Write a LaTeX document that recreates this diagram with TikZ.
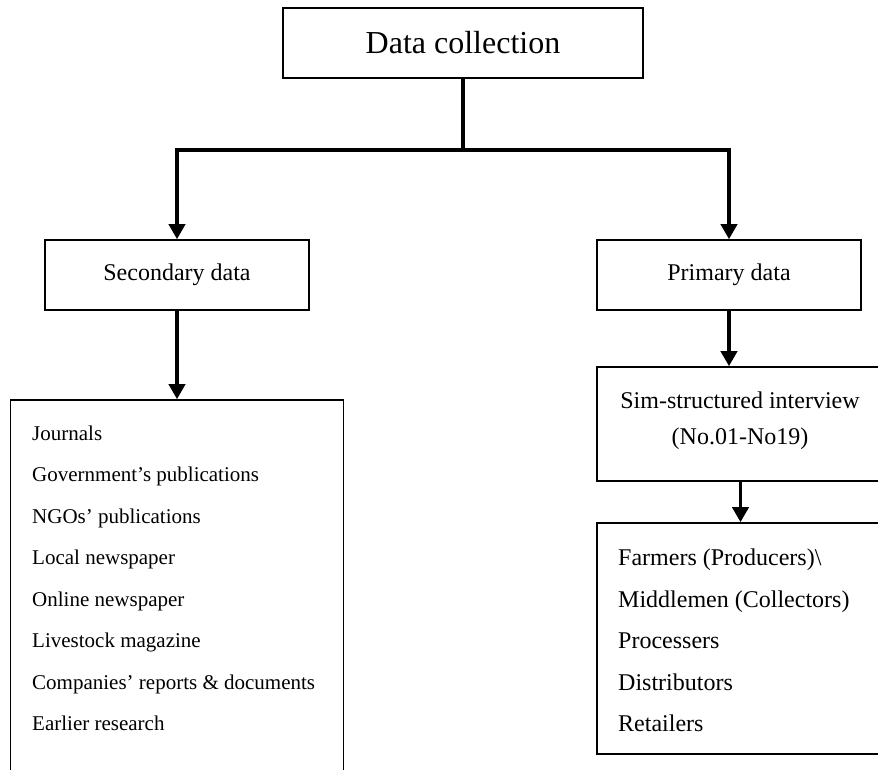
\documentclass[tikz,border=0pt]{standalone}
\usepackage{fontspec}
\setmainfont{Liberation Serif}
\usetikzlibrary{arrows.meta}

\tikzset{
  box/.style={draw, line width=1.6pt, inner sep=0pt, rectangle, align=center},
  flow/.style={line width=3.8pt, -{Triangle[width=16pt,length=15pt]}},
  joint/.style={line width=3.8pt},
  item/.style={anchor=base west, inner sep=0pt},
}

\begin{document}
\begin{tikzpicture}[x=1pt, y=-1pt]
  \useasboundingbox (0,0) rectangle (878,769);
  \clip (0,0) rectangle (878,769);

  % boxes
  \node[box, minimum width=360pt, minimum height=70pt, font=\fontsize{32}{38}\selectfont]
    (top) at (463,43) {Data collection};
  \node[box, minimum width=264pt, minimum height=70pt, font=\fontsize{24}{29}\selectfont]
    (sec) at (177,275) {Secondary data};
  \node[box, minimum width=264pt, minimum height=70pt, font=\fontsize{24}{29}\selectfont]
    (prim) at (729,275) {Primary data};
  \node[box, minimum width=333pt, minimum height=420pt] (lst) at (177,610) {};
  \node[box, minimum width=287pt, minimum height=114pt] (sim) at (740.5,424) {};
  \node[box, minimum width=287pt, minimum height=231pt] (ret) at (740.5,638.5) {};

  % interview box text
  \begin{scope}[font=\fontsize{24}{29}\selectfont]
    \node[anchor=base, inner sep=0pt] (sim1) at (740,408) {Sim-structured interview};
    \node[anchor=base, inner sep=0pt] (sim2) at (740,444) {(No.01-No19)};
  \end{scope}

  % secondary sources
  \begin{scope}[font=\fontsize{21}{25}\selectfont]
    \node[item] (s1) at (32,440)   {Journals};
    \node[item] (s2) at (32,481.5) {Government’s publications};
    \node[item] (s3) at (32,523)   {NGOs’ publications};
    \node[item] (s4) at (32,564.5) {Local newspaper};
    \node[item] (s5) at (32,606)   {Online newspaper};
    \node[item] (s6) at (32,647.5) {Livestock magazine};
    \node[item] (s7) at (32,689)   {Companies’ reports \& documents};
    \node[item] (s8) at (32,730.5) {Earlier research};
  \end{scope}

  % interviewed groups
  \begin{scope}[font=\fontsize{24}{29}\selectfont]
    \node[item] (r1) at (618,565.5) {Farmers (Producers)\textbackslash};
    \node[item] (r2) at (618,607)   {Middlemen (Collectors)};
    \node[item] (r3) at (618,648.5) {Processers};
    \node[item] (r4) at (618,690)   {Distributors};
    \node[item] (r5) at (618,731)   {Retailers};
  \end{scope}

  % connectors
  \coordinate (split) at (463,150);
  \draw[joint] (top.south) -- (split);
  \draw[flow] (split) -| (sec.north);
  \draw[flow] (split) -| (prim.north);
  \draw[flow] (sec.south) -- (lst.north);
  \draw[flow] (prim.south) -- (prim.south |- sim.north);
  \draw[flow] (sim.south) -- (ret.north);
\end{tikzpicture}
\end{document}
